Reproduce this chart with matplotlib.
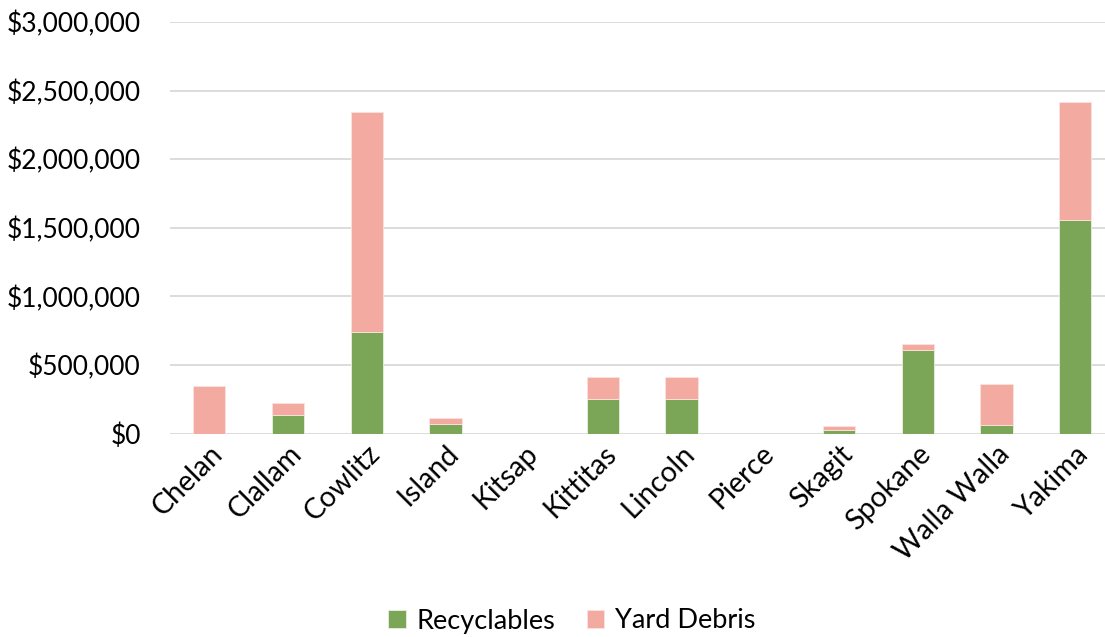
import numpy as np
import matplotlib.pyplot as plt
from matplotlib.ticker import FuncFormatter, MultipleLocator

counties = ["Chelan", "Clallam", "Cowlitz", "Island", "Kitsap", "Kittitas",
            "Lincoln", "Pierce", "Skagit", "Spokane", "Walla Walla", "Yakima"]
recyclables = [0, 135000, 742000, 67000, 0, 254000,
               254000, 0, 28000, 611000, 62000, 1559000]
yard_debris = [346000, 85000, 1600000, 46000, 0, 160000,
               160000, 0, 27000, 41000, 299000, 856000]

green = "#7BA557"
pink = "#F2AAA1"

plt.rcParams['font.family'] = ['Lato', 'DejaVu Sans']

fig = plt.figure(figsize=(11.05, 6.37), dpi=100)
ax = fig.add_axes([170 / 1105, 1 - 433.5 / 637, 1 - 170 / 1105, (433.5 - 22) / 637])

x = np.arange(len(counties))
w = 0.41
ax.bar(x, recyclables, w, color=green, edgecolor="#E8F0E0", linewidth=0.6,
       label="Recyclables", zorder=3)
ax.bar(x, yard_debris, w, bottom=recyclables, color=pink, edgecolor="#FBE3DF",
       linewidth=0.6, label="Yard Debris", zorder=3)

ax.set_xlim(-0.5, 11.38)
ax.set_ylim(0, 3000000)
ax.yaxis.set_major_locator(MultipleLocator(500000))
ax.yaxis.set_major_formatter(FuncFormatter(lambda v, p: "${:,.0f}".format(v)))
ax.grid(axis="y", color="#D9D9D9", linewidth=1.3, zorder=0)
for s in ax.spines.values():
    s.set_visible(False)
ax.tick_params(axis="y", length=0, pad=21, labelsize=19)
ax.tick_params(axis="x", length=0, pad=5, labelsize=20.5)
ax.set_xticks(x)
ax.set_xticklabels(counties, rotation=45, ha="right", va="top",
                   rotation_mode="anchor")

fig.legend(loc="center", bbox_to_anchor=(572 / 1105, 1 - 621 / 637), ncol=2,
           frameon=False, fontsize=19.5, handlelength=0.65, handleheight=0.65,
           handletextpad=0.4, columnspacing=1.15)

fig.savefig("out.png", dpi=100)
